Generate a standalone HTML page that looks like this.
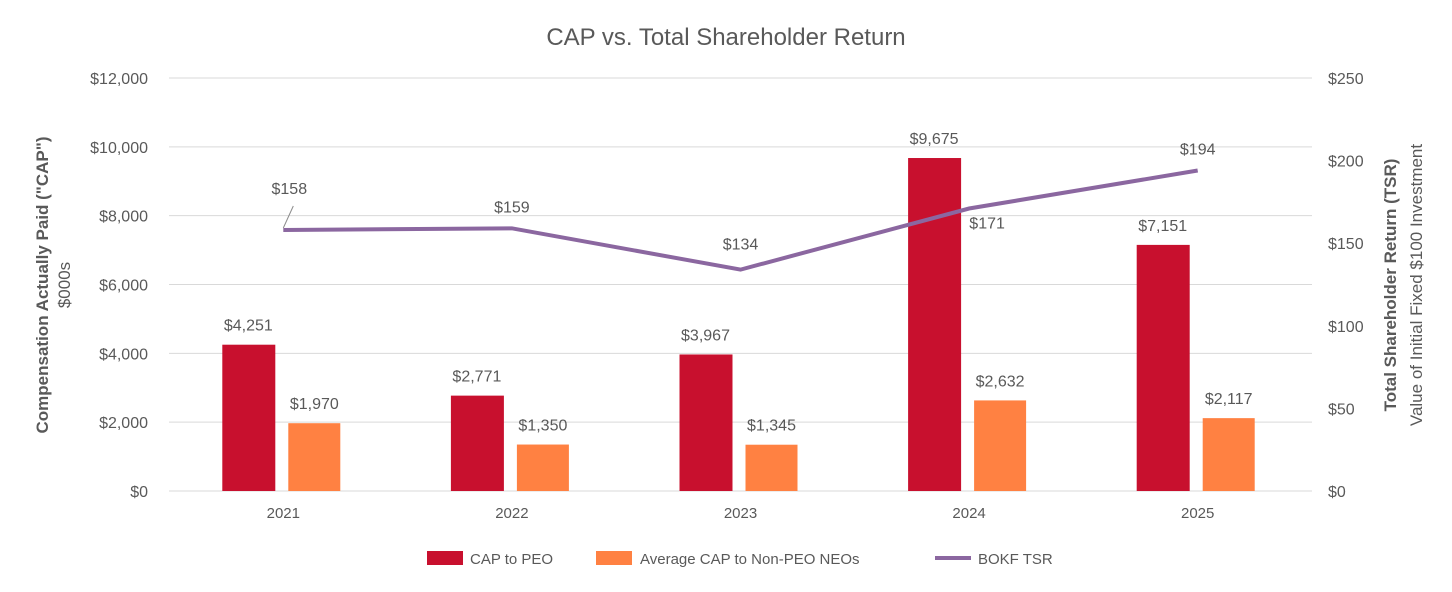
<!DOCTYPE html>
<html><head><meta charset="utf-8"><style>
body{margin:0;background:#fff;}
svg text{font-family:"Liberation Sans",sans-serif;fill:#595959;}
</style></head><body>
<svg id="c" width="1452" height="587" xmlns="http://www.w3.org/2000/svg">
<text x="726" y="45" text-anchor="middle" font-size="24">CAP vs. Total Shareholder Return</text>
<g id="grid"></g><g id="marks"></g>
<text transform="translate(48,285) rotate(-90)" text-anchor="middle" font-size="17" font-weight="bold">Compensation Actually Paid ("CAP")</text>
<text transform="translate(70,285) rotate(-90)" text-anchor="middle" font-size="17">$000s</text>
<text transform="translate(1396,285) rotate(-90)" text-anchor="middle" font-size="17" font-weight="bold">Total Shareholder Return (TSR)</text>
<text transform="translate(1422,285) rotate(-90)" text-anchor="middle" font-size="17">Value of Initial Fixed $100 Investment</text>
<g>
<rect x="427" y="551" width="36" height="14" fill="#C8102E"/>
<text x="470" y="564" font-size="15">CAP to PEO</text>
<rect x="596" y="551" width="36" height="14" fill="#FF8142"/>
<text x="640" y="564" font-size="15">Average CAP to Non-PEO NEOs</text>
<line x1="935" y1="558" x2="971" y2="558" stroke="#8B67A0" stroke-width="4"/>
<text x="978" y="564" font-size="15">BOKF TSR</text>
</g>
</svg>
<script>
const years=["2021","2022","2023","2024","2025"];
const capPeo=[4251,2771,3967,9675,7151];
const capNeo=[1970,1350,1345,2632,2117];
const tsr=[158,159,134,171,194];
const leftTicks=[0,2000,4000,6000,8000,10000,12000];
const rightTicks=[0,50,100,150,200,250];
const NS="http://www.w3.org/2000/svg";
const x0=169,x1=1312,yB=491,yT=78;
const yL=v=>yB-(v/12000)*(yB-yT);
const yR=v=>yB-(v/250)*(yB-yT);
const bw=(x1-x0)/years.length;
const xc=i=>x0+bw*(i+0.5);
const fmt=v=>"$"+v.toLocaleString("en-US");
function mk(p,tag,a){const e=document.createElementNS(NS,tag);for(const k in a)e.setAttribute(k,a[k]);p.appendChild(e);return e;}
const g=document.getElementById('grid'),m=document.getElementById('marks');
leftTicks.forEach(v=>{
 const l=mk(g,'line',{x1:x0,x2:x1,y1:yL(v),y2:yL(v),stroke:'#d9d9d9','stroke-width':1});
 
 
 const t=mk(g,'text',{x:148,y:yL(v)+6,'text-anchor':'end','font-size':16});t.textContent=fmt(v);
 
 
});
rightTicks.forEach(v=>{
 const t=mk(g,'text',{x:1328,y:yR(v)+6,'font-size':16});t.textContent=fmt(v);
 
 
});
years.forEach((y,i)=>{
 const t=mk(g,'text',{x:xc(i),y:518,'text-anchor':'middle','font-size':15});t.textContent=y;
 
 
 const r=mk(m,'rect',{x:xc(i)-61,y:yL(capPeo[i]),width:53,height:yB-yL(capPeo[i]),fill:'#C8102E'});
 
 
 const o=mk(m,'rect',{x:xc(i)+5,y:yL(capNeo[i]),width:52,height:yB-yL(capNeo[i]),fill:'#FF8142'});
 
 
 const a=mk(m,'text',{x:xc(i)-35,y:yL(capPeo[i])-14,'text-anchor':'middle','font-size':16});a.textContent=fmt(capPeo[i]);
 
 
 const b=mk(m,'text',{x:xc(i)+31,y:yL(capNeo[i])-14,'text-anchor':'middle','font-size':16});b.textContent=fmt(capNeo[i]);
 
 
});
const pl=mk(m,'polyline',{points:tsr.map((v,i)=>xc(i)+','+yR(v)).join(' '),fill:'none',stroke:'#8B67A0','stroke-width':4});


tsr.forEach((v,i)=>{
 let x=xc(i),y=yR(v)-16,anc='middle';
 if(i===0){x=xc(i)+6;y=yR(v)-36;
  const ld=mk(m,'line',{x1:xc(i),y1:yR(v)-2,x2:xc(i)+10,y2:yR(v)-24,stroke:'#8c8c8c','stroke-width':1});
  
  }
 if(i===2){y=yR(v)-20;}
 if(i===3){x=xc(i)+18;y=yR(v)+20;anc='middle';x=xc(i)+18;}
 if(i===3){x=xc(i)+18;}
 const t=mk(m,'text',{x:i===3?xc(i)+17:x,y:y,'text-anchor':i===3?'middle':anc,'font-size':16});t.textContent=fmt(v);
 if(i===3)t.setAttribute('x',xc(i)+18);
 
 
});
</script>
</body></html>
